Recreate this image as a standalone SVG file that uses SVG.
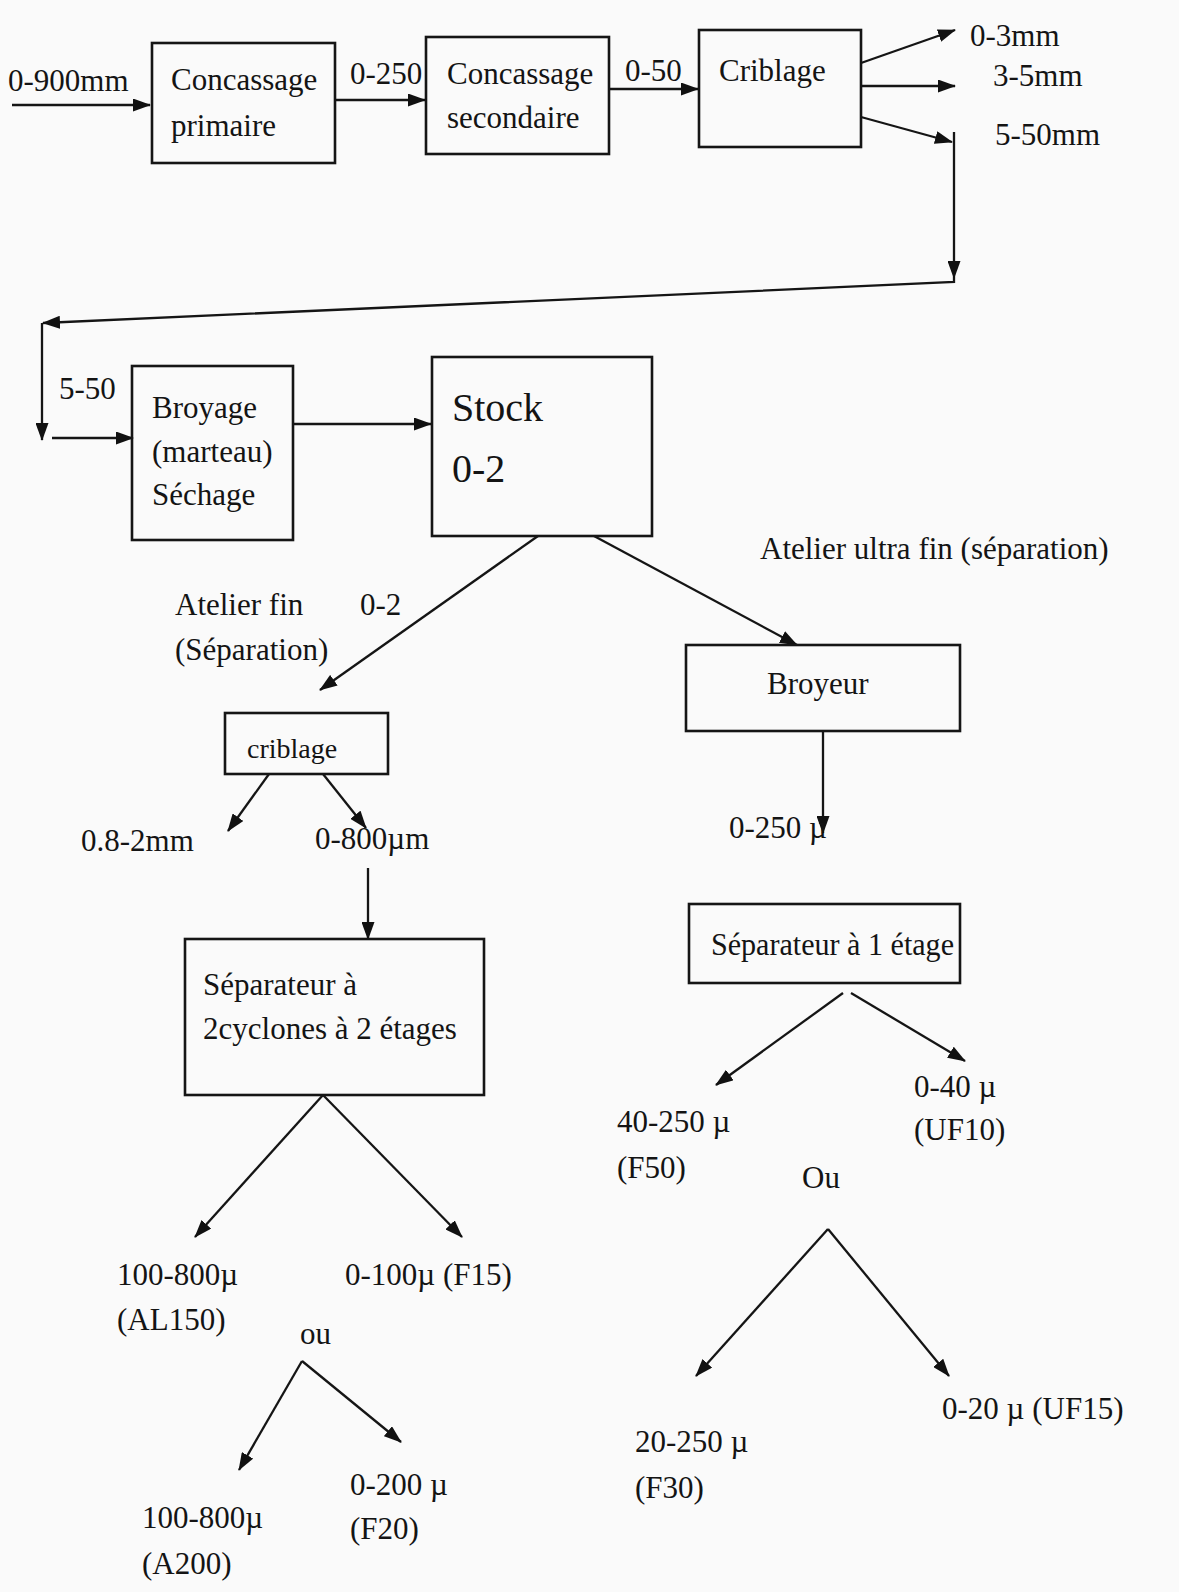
<svg xmlns="http://www.w3.org/2000/svg" width="1179" height="1592" viewBox="0 0 1179 1592">
<defs>
<marker id="ah" viewBox="0 0 18 13" refX="17" refY="6.5" markerWidth="18" markerHeight="13" markerUnits="userSpaceOnUse" orient="auto">
<path d="M0,0 L18,6.5 L0,13 z" fill="#111"/>
</marker>
<style>
text{font-family:"Liberation Serif","Times New Roman",serif;font-size:31px;fill:#141414}
.big{font-size:40px}
.box{fill:none;stroke:#151515;stroke-width:2.6}
.c{fill:none;stroke:#151515;stroke-width:2.3}
.a{marker-end:url(#ah)}
</style>
</defs>
<rect width="1179" height="1592" fill="#fafafa"/>

<g id="connectors">
<line class="c a" x1="12" y1="105" x2="150" y2="105"/>
<line class="c a" x1="335" y1="100" x2="425" y2="100"/>
<line class="c a" x1="609" y1="89" x2="698" y2="89"/>
<line class="c a" x1="861" y1="63" x2="955" y2="30"/>
<line class="c a" x1="861" y1="86" x2="955" y2="86"/>
<line class="c a" x1="861" y1="117" x2="952" y2="142"/>
<line class="c a" x1="954" y1="132" x2="954" y2="278"/>
<polyline class="c a" points="954,278 954,282 43,323"/>
<line class="c a" x1="42" y1="323" x2="42" y2="440"/>
<line class="c a" x1="52" y1="438" x2="133" y2="438"/>
<line class="c a" x1="293" y1="424" x2="431" y2="424"/>
<line class="c a" x1="538" y1="536" x2="320" y2="690"/>
<line class="c a" x1="594" y1="536" x2="797" y2="645"/>
<line class="c a" x1="823" y1="731" x2="823" y2="833"/>
<line class="c a" x1="269" y1="774" x2="228" y2="831"/>
<line class="c a" x1="323" y1="774" x2="366" y2="828"/>
<line class="c a" x1="368" y1="868" x2="368" y2="939"/>
<line class="c a" x1="323" y1="1095" x2="195" y2="1237"/>
<line class="c a" x1="323" y1="1095" x2="462" y2="1237"/>
<line class="c a" x1="302" y1="1361" x2="239" y2="1470"/>
<line class="c a" x1="302" y1="1361" x2="401" y2="1442"/>
<line class="c a" x1="843" y1="993" x2="716" y2="1085"/>
<line class="c a" x1="851" y1="993" x2="965" y2="1061"/>
<line class="c a" x1="828" y1="1229" x2="696" y2="1376"/>
<line class="c a" x1="828" y1="1229" x2="949" y2="1376"/>
</g>

<g id="n-concassage-primaire">
<rect class="box" x="152" y="43" width="183" height="120"/>
<text x="171" y="90">Concassage</text>
<text x="171" y="136">primaire</text>
</g>
<g id="n-concassage-secondaire">
<rect class="box" x="426" y="37" width="183" height="117"/>
<text x="447" y="84">Concassage</text>
<text x="447" y="128">secondaire</text>
</g>
<g id="n-criblage">
<rect class="box" x="699" y="30" width="162" height="117"/>
<text x="719" y="81">Criblage</text>
</g>
<g id="n-broyage">
<rect class="box" x="132" y="366" width="161" height="174"/>
<text x="152" y="418">Broyage</text>
<text x="152" y="462">(marteau)</text>
<text x="152" y="505">Séchage</text>
</g>
<g id="n-stock">
<rect class="box" x="432" y="357" width="220" height="179"/>
<text class="big" x="452" y="421">Stock</text>
<text class="big" x="452" y="482">0-2</text>
</g>
<g id="n-broyeur">
<rect class="box" x="686" y="645" width="274" height="86"/>
<text x="767" y="694">Broyeur</text>
</g>
<g id="n-criblage-fin">
<rect class="box" x="225" y="713" width="163" height="61"/>
<text x="247" y="758" style="font-size:28px">criblage</text>
</g>
<g id="n-separateur-2">
<rect class="box" x="185" y="939" width="299" height="156"/>
<text x="203" y="995">Séparateur à</text>
<text x="203" y="1039">2cyclones à 2 étages</text>
</g>
<g id="n-separateur-1">
<rect class="box" x="689" y="904" width="271" height="79"/>
<text x="711" y="955" textLength="243" lengthAdjust="spacingAndGlyphs">Séparateur à 1 étage</text>
</g>

<g id="labels">
<text x="8" y="91">0-900mm</text>
<text x="350" y="84">0-250</text>
<text x="625" y="81">0-50</text>
<text x="970" y="46">0-3mm</text>
<text x="993" y="86">3-5mm</text>
<text x="995" y="145">5-50mm</text>
<text x="59" y="399">5-50</text>
<text x="760" y="559">Atelier ultra fin (séparation)</text>
<text x="175" y="615">Atelier fin</text>
<text x="360" y="615">0-2</text>
<text x="175" y="660">(Séparation)</text>
<text x="81" y="851">0.8-2mm</text>
<text x="315" y="849">0-800µm</text>
<text x="729" y="838">0-250 µ</text>
<text x="117" y="1285">100-800µ</text>
<text x="117" y="1330">(AL150)</text>
<text x="345" y="1285">0-100µ (F15)</text>
<text x="300" y="1344">ou</text>
<text x="142" y="1528">100-800µ</text>
<text x="142" y="1574">(A200)</text>
<text x="350" y="1495">0-200 µ</text>
<text x="350" y="1539">(F20)</text>
<text x="617" y="1132">40-250 µ</text>
<text x="617" y="1178">(F50)</text>
<text x="914" y="1097">0-40 µ</text>
<text x="914" y="1140">(UF10)</text>
<text x="802" y="1188">Ou</text>
<text x="942" y="1419">0-20 µ (UF15)</text>
<text x="635" y="1452">20-250 µ</text>
<text x="635" y="1498">(F30)</text>
</g>
</svg>
